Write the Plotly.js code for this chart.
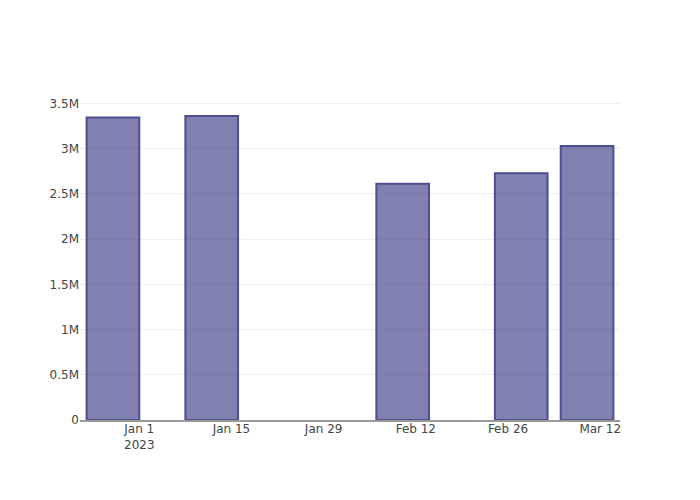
<!DOCTYPE html>
<html>
<head>
<meta charset="utf-8">
<script src="https://cdn.plot.ly/plotly-3.0.1.min.js"></script>
<style>html,body{margin:0;padding:0;background:#fff;}</style>
</head>
<body>
<div id="chart" style="width:700px;height:500px;"></div>
<script>
const dates = ["2022-12-28", "2023-01-12", "2023-02-10", "2023-02-28", "2023-03-10"];
const values = [3345000, 3362000, 2614000, 2728000, 3030000];
const yTickVals = [0, 500000, 1000000, 1500000, 2000000, 2500000, 3000000, 3500000];
const yTickText = ["0", "0.5M", "1M", "1.5M", "2M", "2.5M", "3M", "3.5M"];

const trace = {
  type: "bar",
  x: dates,
  y: values,
  marker: {
    color: "rgba(45,45,125,0.6)",
    line: {color: "rgb(78,78,145)", width: 2}
  }
};

const layout = {
  width: 700,
  height: 500,
  margin: {l: 80, r: 80, t: 100, b: 80},
  paper_bgcolor: "#fff",
  plot_bgcolor: "#fff",
  font: {family: "'DejaVu Sans', sans-serif", size: 12, color: "#444"},
  showlegend: false,
  xaxis: {
    type: "date",
    range: ["2022-12-23", "2023-03-15"],
    showgrid: false,
    showline: true,
    linecolor: "#999",
    linewidth: 1.5,
    dtick: 14 * 24 * 3600 * 1000,
    tick0: "2023-01-01",
    ticks: "",
    ticklabelstandoff: -3,
    zeroline: false
  },
  yaxis: {
    showgrid: true,
    gridcolor: "#eee",
    zeroline: false,
    ticks: "",
    tickmode: "array",
    tickvals: yTickVals,
    ticktext: yTickText
  }
};

Plotly.newPlot("chart", [trace], layout, {displayModeBar: false});
</script>
</body>
</html>
